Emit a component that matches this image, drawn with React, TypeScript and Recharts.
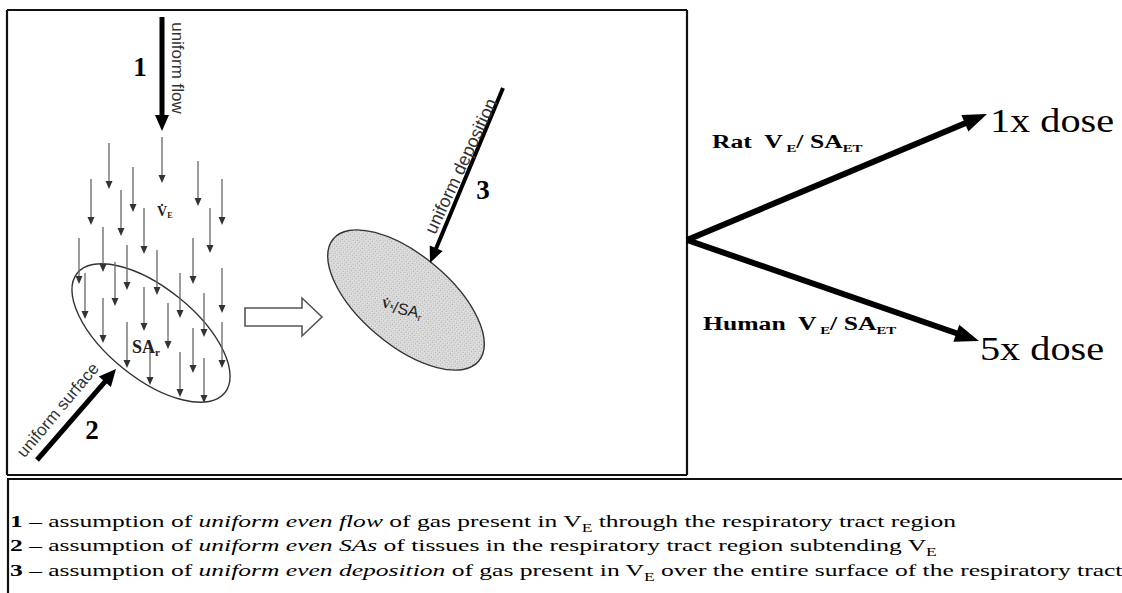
import React from 'react';
import { ScatterChart, XAxis, YAxis, Scatter, ReferenceLine, ReferenceDot } from 'recharts';

const W = 1122;
const H = 593;

const serif = '"Liberation Serif", "Times New Roman", serif';
const sans = '"Liberation Sans", Arial, sans-serif';

// thin flow arrows in the left panel: [x, yStart, yTip]
const flowArrows = [
  [109, 143, 189], [162, 137, 183], [133, 167, 212], [198, 161, 206],
  [91, 179, 225], [222, 179, 225], [121, 190, 236], [144, 208, 254],
  [210, 208, 253], [193, 238, 284], [79, 238, 284], [103, 227, 272],
  [127, 245, 290], [157, 250, 295], [115, 262, 306], [180, 273, 318],
  [85, 273, 319], [144, 287, 331], [222, 268, 313], [204, 293, 337],
  [103, 298, 343], [168, 303, 349], [127, 322, 368], [150, 343, 385],
  [180, 352, 397], [193, 328, 373], [204, 358, 403], [222, 322, 368],
];

// big numbered arrows 1, 2, 3
const stepArrows = [
  { from: [162, 17], to: [162, 131], width: 5, head: 16, half: 7 },
  { from: [37, 460], to: [116, 369], width: 5, head: 17, half: 8 },
  { from: [503, 88], to: [430, 263], width: 4, head: 16, half: 7 },
];

// fork to the dose labels
const doseArrows = [
  { from: [687, 240], to: [987, 114], width: 6, head: 24, half: 9 },
  { from: [687, 240], to: [979, 341], width: 6, head: 24, half: 9 },
];

// surfaces: center, semi axes, tilt
const ellipses = [
  { cx: 151, cy: 333, a: 95, b: 45, angle: 39, fill: 'none' },
  { cx: 406, cy: 300, a: 95, b: 45, angle: 40, fill: 'url(#stipple)' },
];

const blockArrow = { from: [245, 317], to: [322, 317], shaft: 9, head: 20, half: 19 };

const frameLines = [
  [[7, 10], [687, 10]], [[7, 10], [7, 475]], [[687, 10], [687, 475]], [[7, 475], [687, 475]],
  [[7, 479], [1122, 479]], [[8, 479], [8, 593]],
];

const stepNumbers = [
  { t: '1', x: 140, y: 67 },
  { t: '2', x: 92, y: 430 },
  { t: '3', x: 483, y: 190 },
];

const captions = [
  { t: 'uniform flow', x: 177, y: 68, rot: 90, size: 17 },
  { t: 'uniform surface', x: 58, y: 410, rot: -50, size: 17 },
  { t: 'uniform deposition', x: 461, y: 166, rot: -65, size: 18 },
];

const doseLabels = [
  { t: '1x dose', x: 990, y: 132 },
  { t: '5x dose', x: 980, y: 360 },
];

const ratioLabels = [
  { who: 'Rat', x: 712, y: 148 },
  { who: 'Human', x: 703, y: 330 },
];

type Part = { t: string; b?: boolean; i?: boolean; sub?: boolean };

const notes: Part[][] = [
  [{ t: '1', b: true }, { t: ' – assumption of ' }, { t: 'uniform even flow', i: true }, { t: ' of gas present in V' }, { t: 'E', sub: true }, { t: ' through the respiratory tract region' }],
  [{ t: '2', b: true }, { t: ' – assumption of ' }, { t: 'uniform even SAs', i: true }, { t: ' of tissues in the respiratory tract region subtending V' }, { t: 'E', sub: true }],
  [{ t: '3', b: true }, { t: ' – assumption of ' }, { t: 'uniform even deposition', i: true }, { t: ' of gas present in V' }, { t: 'E', sub: true }, { t: ' over the entire surface of the respiratory tract' }],
];
const noteRows = [527, 551, 576];

function arrowGeom(x1: number, y1: number, x2: number, y2: number, head: number, half: number) {
  const dx = x2 - x1;
  const dy = y2 - y1;
  const L = Math.hypot(dx, dy) || 1;
  const ux = dx / L;
  const uy = dy / L;
  const bx = x2 - ux * head;
  const by = y2 - uy * head;
  const px = -uy;
  const py = ux;
  return {
    bx: bx + ux, by: by + uy,
    pts: `${x2},${y2} ${bx + px * half},${by + py * half} ${bx - px * half},${by - py * half}`,
  };
}

const solidArrow = (width: number, head: number, half: number, color: string) => (p: any) => {
  const g = arrowGeom(p.x1, p.y1, p.x2, p.y2, head, half);
  return (
    <g>
      <line x1={p.x1} y1={p.y1} x2={g.bx} y2={g.by} stroke={color} strokeWidth={width} />
      <polygon points={g.pts} fill={color} />
    </g>
  );
};

const hollowArrow = (shaft: number, head: number, half: number) => (p: any) => {
  const { x1, y1, x2 } = p;
  const hx = x2 - head;
  const pts = [
    [x1, y1 - shaft], [hx, y1 - shaft], [hx, y1 - half], [x2, y1],
    [hx, y1 + half], [hx, y1 + shaft], [x1, y1 + shaft],
  ].map((q) => q.join(',')).join(' ');
  return <polygon points={pts} fill="#fff" stroke="#555" strokeWidth={1.6} />;
};

const ellipseShape = (ratio: number, fill: string) => (p: any) => {
  const cx = (p.x1 + p.x2) / 2;
  const cy = (p.y1 + p.y2) / 2;
  const rx = Math.hypot(p.x2 - p.x1, p.y2 - p.y1) / 2;
  const ang = (Math.atan2(p.y2 - p.y1, p.x2 - p.x1) * 180) / Math.PI;
  return (
    <g>
      <defs>
        <pattern id="stipple" width="3" height="3" patternUnits="userSpaceOnUse">
          <rect width="3" height="3" fill="#e0e0e0" />
          <rect width="1" height="1" fill="#a8a8a8" />
          <rect x="2" y="1.5" width="1" height="1" fill="#bdbdbd" />
        </pattern>
      </defs>
      <ellipse cx={cx} cy={cy} rx={rx} ry={rx * ratio} fill={fill} stroke="#333"
        strokeWidth={1.4} transform={`rotate(${ang} ${cx} ${cy})`} />
    </g>
  );
};

const flowHead = (p: any) => (
  <polygon points={`${p.cx},${p.cy} ${p.cx - 3.5},${p.cy - 8} ${p.cx + 3.5},${p.cy - 8}`} fill="#333" />
);

const subParts = (parts: Part[], subDy: number, subSize: number) =>
  parts.map((q, i) => {
    const prevSub = i > 0 && parts[i - 1].sub;
    const dy = q.sub ? subDy : prevSub ? -subDy : 0;
    return (
      <tspan key={i} dy={dy} fontSize={q.sub ? subSize : undefined}
        fontWeight={q.b ? 'bold' : undefined} fontStyle={q.i ? 'italic' : undefined}>
        {q.t}
      </tspan>
    );
  });

// the source figure is stretched sideways, so wide texts get a horizontal scale
const stretched = (cx: number, cy: number, sx: number) => `translate(${cx} ${cy}) scale(${sx} 1)`;

export default function App() {
  const heads = flowArrows.map(([x, , y2]) => ({ x, y: y2 }));
  return (
    <div style={{ position: 'absolute', left: 0, top: 0, background: '#fff' }}>
      <ScatterChart width={W} height={H} margin={{ top: 0, right: 0, bottom: 0, left: 0 }}>
        <XAxis type="number" dataKey="x" domain={[0, W]} hide allowDataOverflow />
        <YAxis type="number" dataKey="y" domain={[0, H]} reversed hide allowDataOverflow />

        {frameLines.map(([a, b], i) => (
          <ReferenceLine key={`f${i}`} segment={[{ x: a[0], y: a[1] }, { x: b[0], y: b[1] }]}
            stroke="#111" strokeWidth={2.2} />
        ))}

        {ellipses.map((e, i) => {
          const r = (e.angle * Math.PI) / 180;
          return (
            <ReferenceLine key={`e${i}`}
              segment={[
                { x: e.cx - e.a * Math.cos(r), y: e.cy - e.a * Math.sin(r) },
                { x: e.cx + e.a * Math.cos(r), y: e.cy + e.a * Math.sin(r) },
              ]}
              shape={ellipseShape(e.b / e.a, e.fill)} />
          );
        })}

        {flowArrows.map(([x, y1, y2], i) => (
          <ReferenceLine key={`a${i}`} segment={[{ x, y: y1 }, { x, y: y2 - 6 }]}
            stroke="#666" strokeWidth={1.3} />
        ))}
        <Scatter data={heads} dataKey="y" shape={flowHead} isAnimationActive={false} />

        <ReferenceLine
          segment={[{ x: blockArrow.from[0], y: blockArrow.from[1] }, { x: blockArrow.to[0], y: blockArrow.to[1] }]}
          shape={hollowArrow(blockArrow.shaft, blockArrow.head, blockArrow.half)} />

        {stepArrows.map((s, i) => (
          <ReferenceLine key={`s${i}`} segment={[{ x: s.from[0], y: s.from[1] }, { x: s.to[0], y: s.to[1] }]}
            shape={solidArrow(s.width, s.head, s.half, '#000')} />
        ))}
        {doseArrows.map((s, i) => (
          <ReferenceLine key={`d${i}`} segment={[{ x: s.from[0], y: s.from[1] }, { x: s.to[0], y: s.to[1] }]}
            shape={solidArrow(s.width, s.head, s.half, '#000')} />
        ))}

        {stepNumbers.map((n) => (
          <ReferenceDot key={`n${n.t}`} x={n.x} y={n.y}
            shape={(p: any) => (
              <text x={p.cx} y={p.cy} textAnchor="middle" dominantBaseline="central"
                fontFamily={serif} fontWeight="bold" fontSize={27} fill="#000">{n.t}</text>
            )} />
        ))}

        {captions.map((c) => (
          <ReferenceDot key={c.t} x={c.x} y={c.y}
            shape={(p: any) => (
              <text x={p.cx} y={p.cy} textAnchor="middle" dominantBaseline="central"
                transform={`rotate(${c.rot} ${p.cx} ${p.cy})`}
                fontFamily={sans} fontSize={c.size} fill="#333">{c.t}</text>
            )} />
        ))}

        <ReferenceDot x={157} y={216}
          shape={(p: any) => (
            <text x={p.cx} y={p.cy} fontFamily={serif} fontWeight="bold" fontSize={14} fill="#222">
              V̇<tspan dy={2} fontSize={8}>E</tspan>
            </text>
          )} />
        <ReferenceDot x={132} y={353}
          shape={(p: any) => (
            <text x={p.cx} y={p.cy} fontFamily={serif} fontWeight="bold" fontSize={18} fill="#222">
              SA<tspan dy={3} fontSize={11}>r</tspan>
            </text>
          )} />
        <ReferenceDot x={381} y={307}
          shape={(p: any) => (
            <text x={p.cx} y={p.cy} fill="#222" transform={`rotate(12 ${p.cx} ${p.cy})`}>
              <tspan fontFamily={serif} fontWeight="bold" fontSize={12}>V̇</tspan>
              <tspan fontFamily={serif} fontWeight="bold" fontSize={7} dy={-1}>x</tspan>
              <tspan fontFamily={sans} fontSize={16} dy={4}>/SA</tspan>
              <tspan fontFamily={sans} fontSize={10} dy={3}>r</tspan>
            </text>
          )} />

        {ratioLabels.map((r) => (
          <ReferenceDot key={r.who} x={r.x} y={r.y}
            shape={(p: any) => (
              <text transform={stretched(p.cx, p.cy, 1.35)} x={0} y={0} fontFamily={serif}
                fontWeight="bold" fontSize={19} fill="#000" style={{ whiteSpace: 'pre' }}>
                {subParts([{ t: `${r.who}  V` }, { t: ' E', sub: true }, { t: '/ SA' }, { t: 'ET', sub: true }], 4, 11)}
              </text>
            )} />
        ))}

        {doseLabels.map((d) => (
          <ReferenceDot key={d.t} x={d.x} y={d.y}
            shape={(p: any) => (
              <text transform={stretched(p.cx, p.cy, 1.22)} x={0} y={0} fontFamily={serif}
                fontSize={33} fill="#000">{d.t}</text>
            )} />
        ))}

        {notes.map((parts, i) => (
          <ReferenceDot key={`note${i}`} x={10} y={noteRows[i]}
            shape={(p: any) => (
              <text transform={stretched(p.cx, p.cy, 1.46)} x={0} y={0} fontFamily={serif}
                fontSize={17.5} fill="#000" style={{ whiteSpace: 'pre' }}>
                {subParts(parts, 5, 12)}
              </text>
            )} />
        ))}
      </ScatterChart>
    </div>
  );
}
